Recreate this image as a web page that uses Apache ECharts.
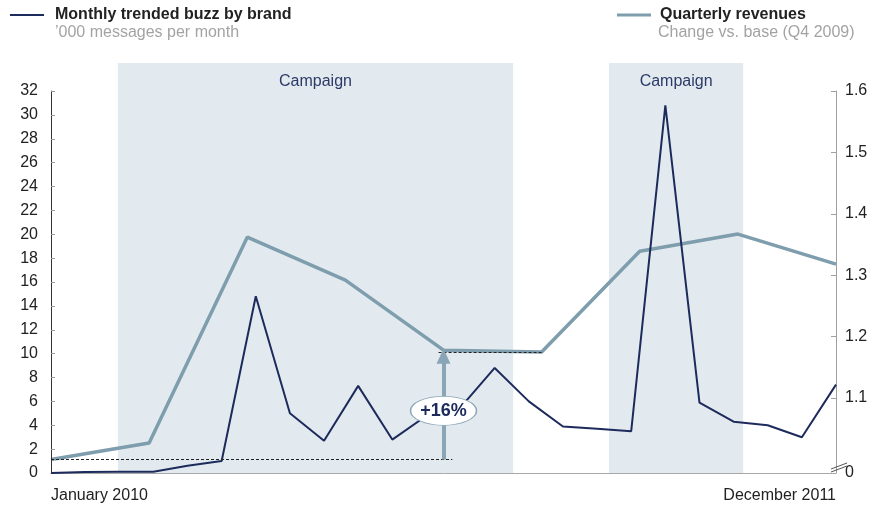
<!DOCTYPE html>
<html>
<head>
<meta charset="utf-8">
<script src="https://cdn.jsdelivr.net/npm/echarts@6/dist/echarts.min.js"></script>
<style>
  html, body { margin: 0; padding: 0; background: #fff; }
  #main { width: 881px; height: 510px; }
</style>
</head>
<body>
<div id="main"></div>
<script>
// monthly buzz, Jan 2010 .. Dec 2011 ('000 messages per month)
const months = ['Jan 2010','Feb 2010','Mar 2010','Apr 2010','May 2010','Jun 2010','Jul 2010','Aug 2010','Sep 2010','Oct 2010','Nov 2010','Dec 2010',
  'Jan 2011','Feb 2011','Mar 2011','Apr 2011','May 2011','Jun 2011','Jul 2011','Aug 2011','Sep 2011','Oct 2011','Nov 2011','Dec 2011'];
const buzz = [0, 0.08, 0.1, 0.1, 0.6, 1.0, 14.8, 5.0, 2.7, 7.3, 2.8, 4.8, 5.5, 8.8, 6.0, 3.9, 3.7, 3.5, 30.8, 5.9, 4.3, 4.0, 3.0, 7.4];

// quarterly revenues, change vs. base (Q4 2009)
const quarters = ['Q4 2009','Q1 2010','Q2 2010','Q3 2010','Q4 2010','Q1 2011','Q2 2011','Q3 2011','Q4 2011'];
const revenue = [1.0, 1.027, 1.362, 1.292, 1.178, 1.175, 1.339, 1.367, 1.318];

// campaign periods, in month positions (0 = Jan 2010)
const campaigns = [[1.96, 13.54], [16.35, 20.28]];

// axis ticks
const xLabels = ['January 2010', 'December 2011'];
const revTicks = [0.978, 1.1, 1.2, 1.3, 1.4, 1.5, 1.6];
const revMin = 0.978;

// +16% annotation: base quarter vs compared quarter
const baseQ = 0, cmpQ = 4, baseLineEnd = 4.09;
const growthLabel = '+16%';

const navy = '#1d2b5c';
const steel = '#7e9dad';
const font = 'Arial, "Liberation Sans", sans-serif';

const chart = echarts.init(document.getElementById('main'));

const option = {
  animation: false,
  textStyle: { fontFamily: font },
  title: [
    { text: '\u2019000 messages per month', left: 55, top: 25, padding: 0,
      textStyle: { fontSize: 16, fontWeight: 'normal', color: '#a3a3a3', fontFamily: font } },
    { text: 'Change vs. base (Q4 2009)', left: 658, top: 25, padding: 0,
      textStyle: { fontSize: 16, fontWeight: 'normal', color: '#a3a3a3', fontFamily: font } }
  ],
  legend: [
    { data: ['Monthly trended buzz by brand'], left: 10, top: 7, padding: 0, icon: 'rect',
      itemWidth: 34, itemHeight: 2, selectedMode: false,
      textStyle: { fontSize: 16, fontWeight: 'bold', color: '#222', padding: [0, 0, 0, 6] } },
    { data: ['Quarterly revenues'], left: 617, top: 7, padding: 0, icon: 'rect',
      itemWidth: 34, itemHeight: 3, selectedMode: false,
      textStyle: { fontSize: 16, fontWeight: 'bold', color: '#222', padding: [0, 0, 0, 4] } }
  ],
  grid: [
    { left: 51, right: 45, top: 91, bottom: 37 },
    { left: 51, right: 45, top: 63, bottom: 37 }
  ],
  xAxis: [
    { type: 'value', gridIndex: 0, min: 0, max: months.length - 1, z: 3,
      axisLine: { onZero: false, lineStyle: { color: '#a8a8a8', width: 1 } },
      axisTick: { show: false }, splitLine: { show: false },
      axisLabel: {
        customValues: [0, months.length - 1],
        formatter: v => (v === 0 ? xLabels[0] : xLabels[1]),
        alignMinLabel: 'left', alignMaxLabel: 'right',
        fontSize: 16, color: '#222', margin: 15
      } },
    { type: 'value', gridIndex: 0, min: 0, max: quarters.length - 1, show: false },
    { type: 'value', gridIndex: 1, min: 0, max: months.length - 1, show: false }
  ],
  yAxis: [
    { type: 'value', gridIndex: 0, min: 0, max: 32, interval: 2, z: 3,
      axisLine: { show: true, onZero: false, lineStyle: { color: '#333', width: 1 } },
      axisTick: { show: true, inside: true, length: 4, lineStyle: { color: '#999' } },
      splitLine: { show: false },
      axisLabel: { fontSize: 16, color: '#222', margin: 13 } },
    { type: 'value', gridIndex: 0, position: 'right', min: revMin, max: 1.6, z: 3,
      axisLine: { show: true, onZero: false, lineStyle: { color: '#a0a0a0', width: 1 } },
      axisTick: { show: true, inside: true, length: 5, customValues: revTicks.slice(1),
        lineStyle: { color: '#a0a0a0' } },
      splitLine: { show: false },
      axisLabel: {
        customValues: revTicks,
        formatter: v => (v === revMin ? '0' : v.toFixed(1)),
        fontSize: 16, color: '#222', margin: 9
      } },
    { type: 'value', gridIndex: 1, min: 0, max: 1, show: false }
  ],
  series: [
    {
      name: 'campaigns', type: 'line', xAxisIndex: 2, yAxisIndex: 2, z: 0,
      data: [], silent: true,
      markArea: {
        silent: true,
        itemStyle: { color: '#e3eaef' },
        label: { show: true, position: 'insideTop', distance: 11, fontSize: 16, color: '#2c3a68', fontFamily: font },
        data: campaigns.map(c => [{ name: 'Campaign', xAxis: c[0] }, { xAxis: c[1] }])
      }
    },
    {
      name: 'Monthly trended buzz by brand', type: 'line', xAxisIndex: 0, yAxisIndex: 0, z: 3,
      data: buzz.map((v, i) => [i, v]),
      symbol: 'none', color: navy,
      lineStyle: { color: navy, width: 2 }
    },
    {
      name: 'Quarterly revenues', type: 'line', xAxisIndex: 1, yAxisIndex: 1, z: 2,
      data: revenue.map((v, i) => [i, v]),
      symbol: 'none', color: steel,
      lineStyle: { color: steel, width: 3.5 },
      markLine: {
        silent: true, symbol: 'none',
        label: { show: false },
        lineStyle: { color: '#222', type: [3, 2], width: 1 },
        data: [
          [{ coord: [baseQ, revenue[baseQ]] }, { coord: [baseLineEnd, revenue[baseQ]] }],
          [{ coord: [cmpQ - 0.05, revenue[cmpQ] - 0.004] }, { coord: [cmpQ + 1, revenue[cmpQ] - 0.004] }],
          [
            { coord: [cmpQ, revenue[baseQ]], symbol: 'none',
              lineStyle: { color: '#8aa5b5', type: 'solid', width: 4 } },
            { coord: [cmpQ, revenue[cmpQ] - 0.01], symbol: 'triangle', symbolSize: [14, 15] }
          ]
        ]
      },
      markPoint: {
        silent: true,
        symbol: 'path://M0,50 A50,50 0 1,1 100,50 A50,50 0 1,1 0,50 Z',
        symbolSize: [66, 29],
        symbolOffset: [0, 6],
        itemStyle: { color: '#fff', borderColor: '#8aa5b5', borderWidth: 1 },
        label: { show: true, position: 'inside', formatter: growthLabel,
          fontSize: 18, fontWeight: 'bold', color: navy, fontFamily: font },
        data: [{ coord: [cmpQ, (revenue[baseQ] + revenue[cmpQ]) / 2] }]
      }
    }
  ]
};

chart.setOption(option);

// break mark on the right axis, placed through the axis scale
const p = chart.convertToPixel({ xAxisIndex: 1, yAxisIndex: 1 }, [quarters.length - 1, revMin]);
chart.setOption({
  graphic: [
    { type: 'line', z: 10, silent: true, shape: { x1: p[0] - 5, y1: p[1] - 1, x2: p[0] + 11, y2: p[1] - 7 },
      style: { stroke: '#555', lineWidth: 1 } },
    { type: 'line', z: 10, silent: true, shape: { x1: p[0] - 5, y1: p[1] - 4, x2: p[0] + 11, y2: p[1] - 10 },
      style: { stroke: '#555', lineWidth: 1 } }
  ]
});
</script>
</body>
</html>
